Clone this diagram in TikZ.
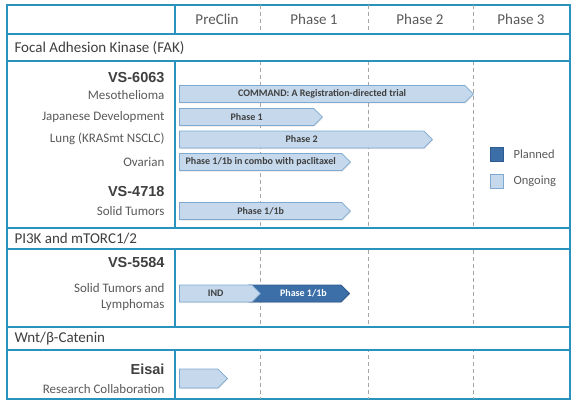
\documentclass[tikz,border=0pt]{standalone}
\usepackage{fontspec}
\setmainfont{Carlito}
\newfontfamily\arialf{Liberation Sans}
\usetikzlibrary{shapes.symbols,shadows}
\definecolor{tealb}{HTML}{2A93BD}
\definecolor{onfill}{HTML}{C5D8EC}
\definecolor{ondraw}{HTML}{7EA9D0}
\definecolor{plfill}{HTML}{3C6FA7}
\definecolor{pldraw}{HTML}{2E5C90}
\definecolor{txtg}{HTML}{595959}
\definecolor{txtd}{HTML}{3F3F3F}
\definecolor{dashg}{HTML}{A6A6A6}
\tikzset{
  frame/.style={draw=tealb, line width=1.2pt},
  catbox/.style={draw=tealb, line width=1.6pt, fill=white, drop shadow={opacity=0.25, shadow xshift=0.8pt, shadow yshift=-1.2pt}},
  coldash/.style={draw=dashg, line width=1pt, dash pattern=on 4pt off 3pt},
  hdr/.style={text=txtg, font=\fontsize{15}{17}\selectfont},
  cat/.style={text=txtd, font=\fontsize{15}{17}\selectfont, anchor=west},
  drug/.style={text=txtd, font=\arialf\bfseries\fontsize{14.5}{16}\selectfont, anchor=east},
  ind/.style={text=txtg, font=\fontsize{13}{15}\selectfont, anchor=east},
  bar/.style={shape=signal, signal to=east, signal pointer angle=90, minimum height=17pt, inner sep=0pt, font=\bfseries\fontsize{10}{11}\selectfont, drop shadow={opacity=0.2, shadow xshift=0.8pt, shadow yshift=-1pt}},
  ongoing/.style={bar, anchor=west, fill=onfill, draw=ondraw, line width=0.8pt, text=txtd},
  planned/.style={bar, fill=plfill, draw=pldraw, line width=0.8pt, text=white},
  legbox/.style={minimum width=13pt, minimum height=14pt, inner sep=0pt, line width=0.8pt},
  leg/.style={text=txtg, font=\fontsize{12.5}{14}\selectfont, anchor=west}
}
\begin{document}
\begin{tikzpicture}[x=1pt,y=-1pt]
\useasboundingbox (0,0) rectangle (580,409);
% outer frame and column dividers
\draw[frame] (7,5) rectangle (570,399);
\draw[frame] (175,5) -- (175,399);
\foreach \xx in {260,368,473} \draw[coldash] (\xx,5) -- (\xx,399);
% category rows
\draw[catbox] (7,34) rectangle (570,61);
\draw[catbox] (7,228) rectangle (570,249);
\draw[catbox] (7,327) rectangle (570,350);
% header
\node[hdr] (h0) at (217,19) {PreClin};
\node[hdr] (h1) at (314,19) {Phase 1};
\node[hdr] (h2) at (420,19) {Phase 2};
\node[hdr] (h3) at (521,19) {Phase 3};
% category labels
\node[cat] (c1) at (11,48) {Focal Adhesion Kinase (FAK)};
\node[cat] (c2) at (11,238.5) {PI3K and mTORC1/2};
\node[cat] (c3) at (11,338.5) {Wnt/β-Catenin};
% drug labels
\node[drug] (d1) at (168,78) {VS-6063};
\node[ind] (i1) at (168,95) {Mesothelioma};
\node[ind] (i2) at (168,117) {Japanese Development};
\node[ind] (i3) at (168,139) {Lung (KRASmt NSCLC)};
\node[ind] (i4) at (168,162) {Ovarian};
\node[drug] (d2) at (168,192) {VS-4718};
\node[ind] (i5) at (168,211) {Solid Tumors};
\node[drug] (d3) at (168,263) {VS-5584};
\node[ind] (i6) at (168,288) {Solid Tumors and};
\node[ind] (i7) at (168,305) {Lymphomas};
\node[drug] (d4) at (168,369) {Eisai};
\node[ind] (i8) at (168,389) {Research Collaboration};
% bars
\node[ongoing, minimum width=294pt] (b1) at (179,94) {COMMAND: A Registration-directed trial};
\node[ongoing, minimum width=143pt] (b2) at (179,117) {Phase 1};
\node[ongoing, minimum width=253pt] (b3) at (179,139.5) {Phase 2};
\node[ongoing, minimum width=171pt] (b4) at (179,162) {Phase 1/1b in combo with paclitaxel};
\node[ongoing, minimum width=171pt] (b5) at (179,211) {Phase 1/1b};
\node[planned, signal from=west, anchor=east, minimum width=100pt] (b7) at (350,293.5) {\hspace{8pt}Phase 1/1b};
\node[ongoing, minimum width=81pt] (b6) at (179,293.5) {IND};
\node[ongoing, minimum width=48pt, minimum height=19pt] (b8) at (179,378.5) {};
% legend
\node[legbox, fill=plfill, draw=pldraw] (lp) at (496.5,154) {};
\node[legbox, fill=onfill, draw=ondraw] (lo) at (496.5,181.5) {};
\node[leg] (lpt) at (510,154) {Planned};
\node[leg] (lot) at (510,181.5) {Ongoing};
\end{tikzpicture}
\end{document}
